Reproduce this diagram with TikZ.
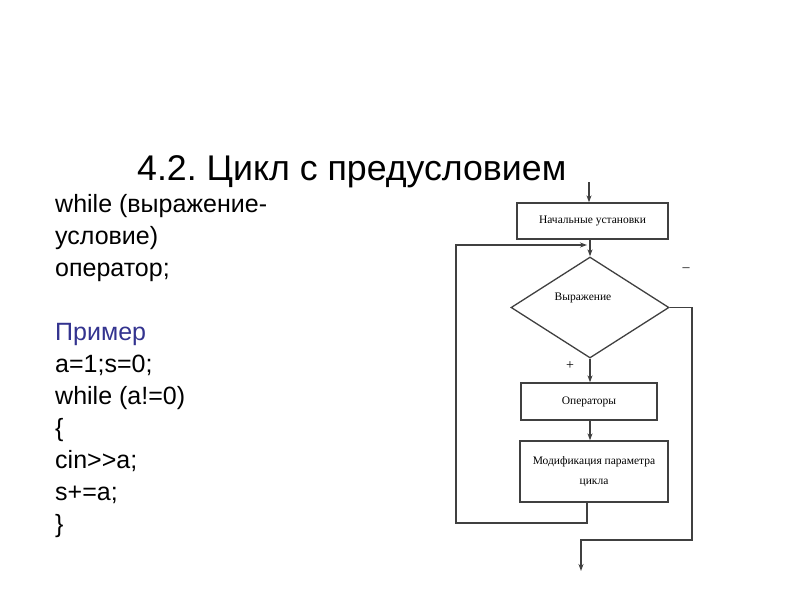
\documentclass[tikz,border=0pt]{standalone}
\usepackage{fontspec}
\setmainfont{Liberation Sans}
\newfontfamily\boxfont{Liberation Serif}
\usetikzlibrary{shapes.geometric,arrows.meta}
\definecolor{lineg}{HTML}{404040}
\definecolor{exblue}{HTML}{33338F}
\tikzset{
  blk/.style={draw=lineg, line width=1.3pt, fill=white, inner sep=2pt, align=center, font=\boxfont\fontsize{11.5}{20}\selectfont},
  arr/.style={draw=lineg, line width=1.3pt, -{Stealth[length=7pt,width=5pt]}},
  codetext/.style={anchor=base west, font=\fontsize{25}{32}\selectfont, inner sep=0pt},
}
\frenchspacing
\begin{document}
\begin{tikzpicture}[x=1pt,y=-1pt]
\useasboundingbox (0,0) rectangle (800,600);
% title
\node[anchor=base west, inner sep=0pt, font=\fontsize{35.7}{40}\selectfont] (title) at (137,180) {4.2. Цикл с предусловием};
% left text
\node[codetext] (l1) at (55,212) {while (выражение-};
\node[codetext] (l2) at (55,244) {условие)};
\node[codetext] (l3) at (55,276) {оператор;};
\node[codetext, text=exblue] (l4) at (55,340) {Пример};
\node[codetext] (l5) at (55,372) {a=1;s=0;};
\node[codetext] (l6) at (55,404) {while (a!=0)};
\node[codetext] (l7) at (55,436) {\{};
\node[codetext] (l8) at (55,468) {cin>{}>a;};
\node[codetext] (l9) at (55,500) {s+=a;};
\node[codetext] (l10) at (55,532) {\}};
% flowchart
\node[blk, minimum width=151pt, minimum height=36pt] (init) at (592.5,221) {Начальные установки};
\node[draw=lineg, line width=1.3pt, diamond, minimum width=158pt, minimum height=101pt, inner sep=0pt] (cond) at (590,307.5) {};
\node[font=\boxfont\fontsize{11.5}{13}\selectfont] (condt) at (583,298) {Выражение};
\node[blk, minimum width=136pt, minimum height=37pt] (ops) at (589,401.5) {Операторы};
\node[blk, minimum width=148pt, minimum height=61pt] (mod) at (594,471.5) {Модификация параметра\\цикла};
\node[font=\boxfont\fontsize{14}{14}\selectfont] (minus) at (686,270) {\textendash};
\node[font=\boxfont\fontsize{14}{14}\selectfont] (plus) at (570,366) {+};
% connectors
\coordinate (in) at (589,182);
\coordinate (lj) at (587,245);
\coordinate (lt) at (456,245);
\coordinate (lb) at (456,523);
\coordinate (ex1) at (692,307.5);
\coordinate (ex2) at (692,540);
\coordinate (ex3) at (581,540);
\coordinate (out) at (581,571);
\draw[arr] (in) -- (in |- init.north);
\draw[arr] (init.south -| cond.north) -- (cond.north);
\draw[arr] (cond.south) -- (cond.south |- ops.north);
\draw[arr] (ops.south -| cond.south) -- (cond.south |- mod.north);
\draw[arr] (mod.south -| lj) -- (lj |- lb) -- (lb) -- (lt) -- (lj);
\draw[arr] (cond.east) -- (ex1) -- (ex2) -- (ex3) -- (out);
\end{tikzpicture}
\end{document}
